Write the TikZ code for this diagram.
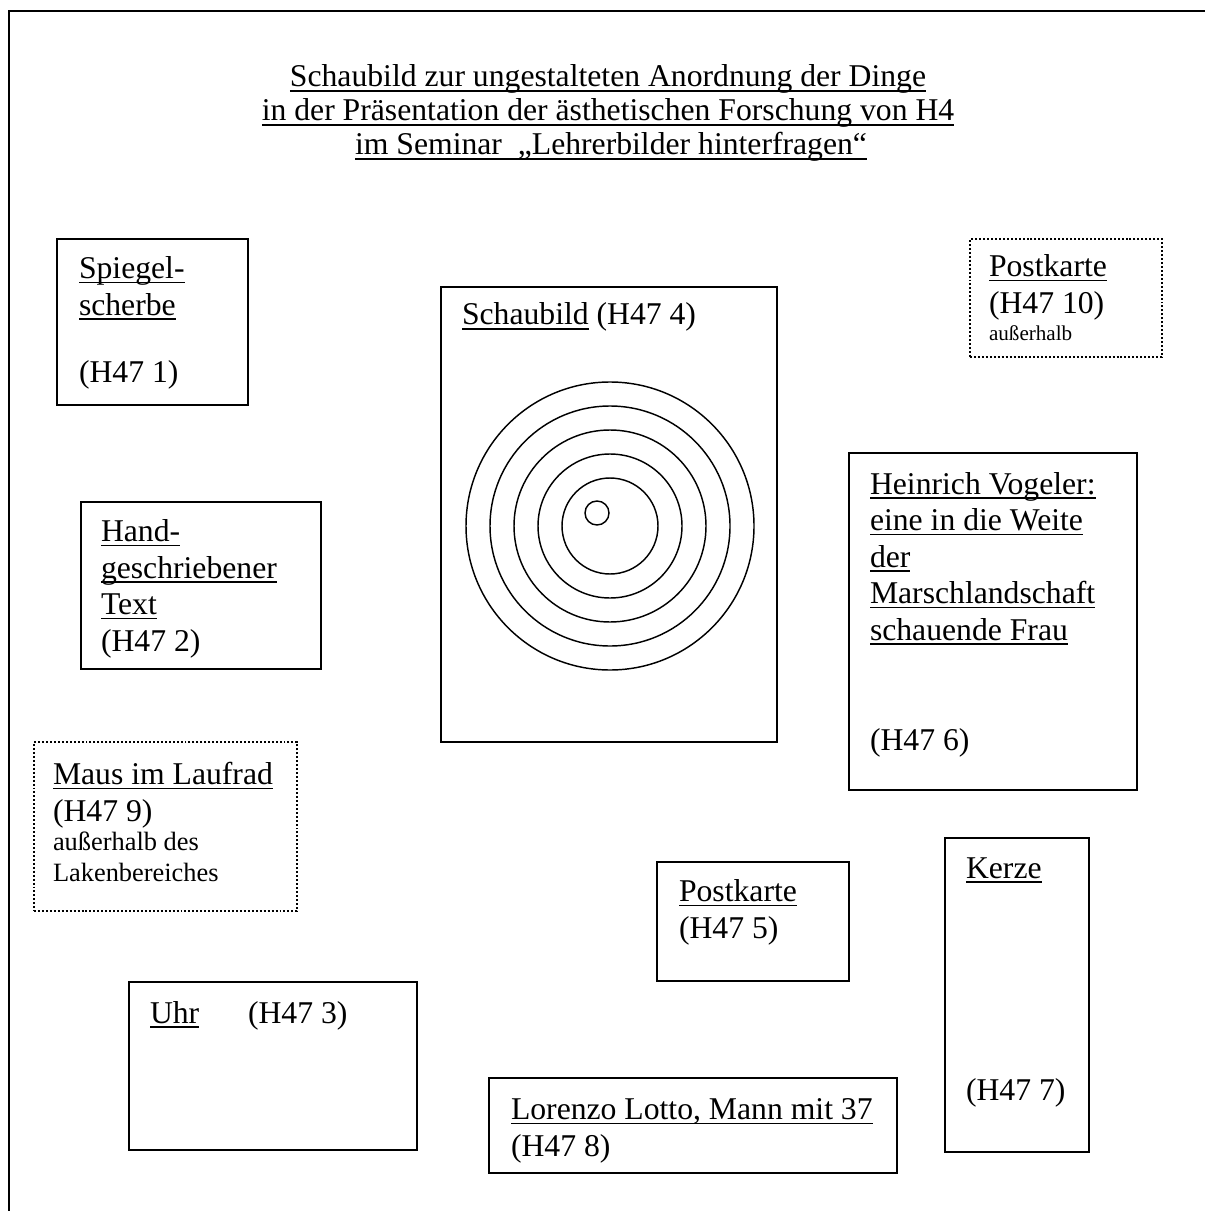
\documentclass[tikz,border=0pt]{standalone}
\usepackage{fontspec}
\setmainfont{Liberation Serif}
\usetikzlibrary{fit}
\newdimen\pxu \pxu=0.3788pt
\newsavebox\ulbox
\newcommand\ulx[1]{\sbox\ulbox{#1}\rlap{\rule[-1.75pt]{\wd\ulbox}{0.55pt}}\usebox\ulbox}
\tikzset{
  every node/.style={inner sep=0pt, outer sep=0pt},
  frameline/.style={draw, line width=0.75pt},
  solidbox/.style={draw, line width=0.75pt, inner sep=0pt},
  dotbox/.style={draw, line width=0.75pt, inner sep=0pt, dash pattern=on 0.75pt off 0.75pt},
  txt/.style={anchor=base west, align=left, font=\fontsize{12}{13.8}\selectfont},
  smalltxt/.style={anchor=base west, align=left, font=\fontsize{10}{11.5}\selectfont},
  tinytxt/.style={anchor=base west, align=left, font=\fontsize{8}{9.2}\selectfont},
  ring/.style={draw, circle, line width=0.55pt, inner sep=0pt},
}
\begin{document}
% note: for multi-line nodes the base anchor is the baseline of the last line
\begin{tikzpicture}[x=0.3788pt, y=-0.3788pt]
\useasboundingbox (0,0) rectangle (1204,1211);
% outer frame
\coordinate (fr1) at (1206,11);
\coordinate (fr2) at (9,11);
\coordinate (fr3) at (9,1213);
\draw[frameline] (fr1) -- (fr2) -- (fr3);

% title
\node[txt, anchor=base] (t1) at (608,87) {\ulx{Schaubild zur ungestalteten Anordnung der Dinge}};
\node[txt, anchor=base] (t2) at (608,121) {\ulx{in der Präsentation der ästhetischen Forschung von H4}};
\node[txt, anchor=base] (t3) at (611,155) {\ulx{im Seminar \ „Lehrerbilder hinterfragen“}};

% Spiegelscherbe
\node[solidbox, fit={(57,239)(248,405)}] (b1) {};
\node[txt] (b1t) at (79,315) {\ulx{Spiegel-}\\\ulx{scherbe}};
\node[txt] (b1n) at (79,382) {(H47 1)};

% Schaubild
\node[solidbox, fit={(441,287)(777,742)}] (b4) {};
\node[txt] (b4t) at (462,325) {\ulx{Schaubild} (H47 4)};
\node[ring, minimum size=288\pxu] (r5) at (610,526) {};
\node[ring, minimum size=240\pxu] (r4) at (610,526) {};
\node[ring, minimum size=192\pxu] (r3) at (610,526) {};
\node[ring, minimum size=144\pxu] (r2) at (610,526) {};
\node[ring, minimum size=96\pxu] (r1) at (610,526) {};
\node[ring, minimum size=24\pxu] (r0) at (597,513) {};

% Postkarte 10
\node[dotbox, fit={(970,239)(1162,357)}] (b10) {};
\node[txt] (b10t) at (989,313) {\ulx{Postkarte}\\(H47 10)};
\node[tinytxt] (b10s) at (989,340) {außerhalb};

% Handgeschriebener Text
\node[solidbox, fit={(81,502)(321,669)}] (b2) {};
\node[txt] (b2t) at (101,651) {\ulx{Hand-}\\\ulx{geschriebener}\\\ulx{Text}\\(H47 2)};

% Heinrich Vogeler
\node[solidbox, fit={(849,453)(1137,790)}] (b6) {};
\node[txt] (b6t) at (870,640) {\ulx{Heinrich Vogeler:}\\\ulx{eine in die Weite}\\\ulx{der}\\\ulx{Marschlandschaft}\\\ulx{schauende Frau}};
\node[txt] (b6n) at (870,750) {(H47 6)};

% Maus im Laufrad
\node[dotbox, fit={(34,742)(297,911)}] (b9) {};
\node[txt] (b9t) at (53,821) {\ulx{Maus im Laufrad}\\(H47 9)};
\node[smalltxt] (b9s) at (53,881) {außerhalb des\\Lakenbereiches};

% Kerze
\node[solidbox, fit={(945,838)(1089,1152)}] (b7) {};
\node[txt] (b7t) at (966,878) {\ulx{Kerze}};
\node[txt] (b7n) at (966,1100) {(H47 7)};

% Postkarte 5
\node[solidbox, fit={(657,862)(849,981)}] (b5) {};
\node[txt] (b5t) at (679,938) {\ulx{Postkarte}\\(H47 5)};

% Uhr
\node[solidbox, fit={(129,982)(417,1150)}] (b3) {};
\node[txt] (b3t) at (150,1023) {\ulx{Uhr}};
\node[txt] (b3n) at (248,1023) {(H47 3)};

% Lorenzo Lotto
\node[solidbox, fit={(489,1078)(897,1173)}] (b8) {};
\node[txt] (b8t) at (511,1156) {\ulx{Lorenzo Lotto, Mann mit 37}\\(H47 8)};
\end{tikzpicture}
\end{document}
